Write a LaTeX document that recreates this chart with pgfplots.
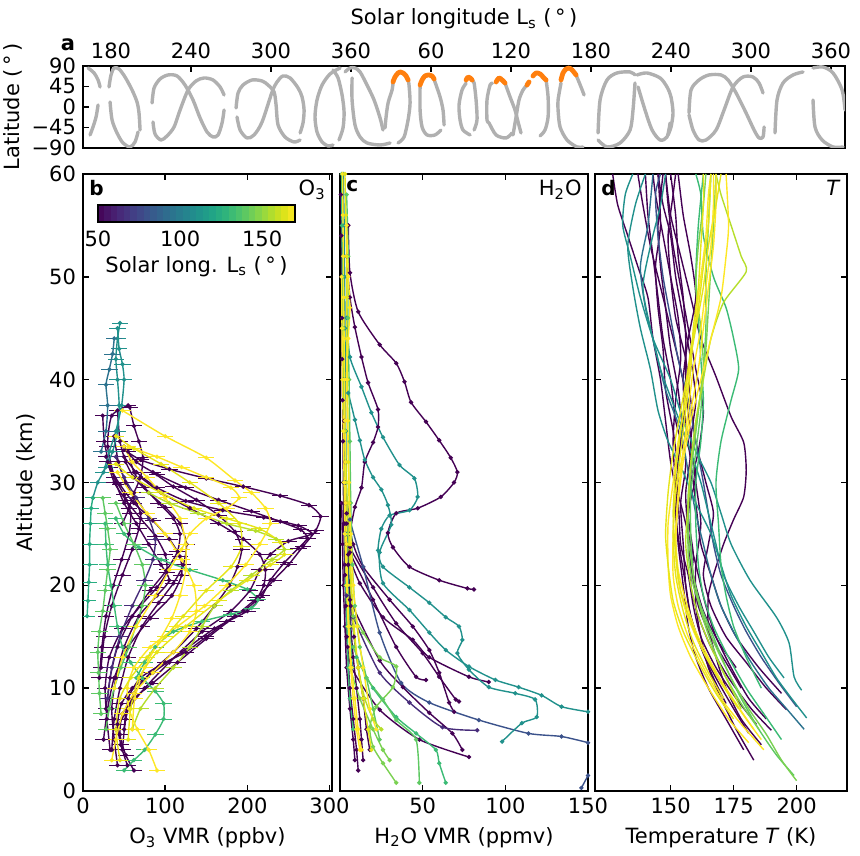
\documentclass[border=0pt]{standalone}
\usepackage{fontspec}
\setmainfont{DejaVu Sans}
\usepackage{pgfplots}
\pgfplotsset{compat=1.18}
\definecolor{vA}{HTML}{440154}
\definecolor{vB}{HTML}{472C7A}
\definecolor{vC}{HTML}{3B528B}
\definecolor{vD}{HTML}{2C728E}
\definecolor{vE}{HTML}{21918C}
\definecolor{vF}{HTML}{27AD81}
\definecolor{vG}{HTML}{3BBB75}
\definecolor{vH}{HTML}{5EC962}
\definecolor{vI}{HTML}{7AD151}
\definecolor{vJ}{HTML}{B5DE2B}
\definecolor{vK}{HTML}{E5E419}
\definecolor{vL}{HTML}{FDE725}
\definecolor{tgrey}{HTML}{B0B0B0}
\definecolor{torange}{HTML}{FF7F0E}
\pgfplotsset{
  every axis/.append style={font=\fontsize{10.5}{12.6}\selectfont},
  panel/.style={scale only axis, anchor=south west, tick align=inside, major tick length=3pt,
    axis line style={line width=0.8pt}, every tick/.style={black, line width=0.8pt},
    /pgf/number format/assume math mode=true},
  oz/.style={color=#1, line width=0.7pt, smooth, tension=0.4, mark=*, mark size=0.7pt,
    error bars/.cd, x dir=both, x fixed=10, error mark=none, error bar style={line width=0.45pt}},
  wv/.style={color=#1, line width=0.7pt, smooth, tension=0.4, mark=*, mark size=0.7pt},
  tt/.style={color=#1, line width=0.7pt, smooth, tension=0.4},
  gtrk/.style={tgrey, line width=1.7pt, line cap=round, line join=round, smooth, tension=0.5},
  otrk/.style={torange, line width=2.4pt, line cap=round, line join=round, smooth, tension=0.5},
}
\begin{document}
\begin{tikzpicture}
\useasboundingbox (-41.5pt,-32pt) rectangle (388.5pt,395.5pt);
% ---------------- panel a ----------------
\begin{axis}[panel, at={(0pt,321.5pt)}, width=381pt, height=41pt,
  xmin=159, xmax=730.5, ymin=-90, ymax=90,
  xtick={180,240,300,360,420,480,540,600,660,720},
  xticklabels={180,240,300,360,60,120,180,240,300,360},
  xtick pos=right, xticklabel pos=right,
  ytick={-90,-45,0,45,90}, yticklabels={−90,−45,0,45,90}, ytick pos=left,
  xlabel={Solar longitude L\textsubscript{s} (\,°\,)},
  ylabel={Latitude (\,°\,)}, ylabel style={yshift=-2pt}]
\addplot[gtrk] coordinates {(162.8,85.6) (167.3,74.7) (170.3,59.3) (171.8,43.9)};
\addplot[gtrk] coordinates {(170.3,4.4) (168.8,-21.9) (166.5,-43.9) (164.3,-61.4)};
\addplot[gtrk] coordinates {(178.5,43.9) (180,70.3) (182.3,85.6) (186,83.4) (190.5,65.9) (195.8,37.3) (199.5,11.0) (201,-13.1) (201.8,-50.5)};
\addplot[gtrk] coordinates {(179.3,11.0) (180.8,-28.5) (184.5,-57.0) (189,-79.0) (194.3,-87.8) (198,-76.8) (200.3,-54.8)};
\addplot[gtrk] coordinates {(210.8,8.8) (212.3,41.7) (216.8,61.5) (222.8,70.3) (229.5,68.1) (235.5,48.2) (241.5,15.4) (246.8,-24.1) (252,-54.8) (256.5,-65.8) (260.3,-61.4) (263.3,-35.1) (264.8,-6.6)};
\addplot[gtrk] coordinates {(211.5,-32.9) (213,-59.2) (217.5,-72.4) (222,-63.6) (227.3,-43.9) (231.8,-6.6) (237.8,37.3) (243.8,57.1) (249.8,63.7) (256.5,59.3) (261.8,43.9) (264.8,26.4)};
\addplot[gtrk] coordinates {(273.8,-2.2) (275.3,30.8) (279,48.2) (285.8,59.3) (293.3,57.1) (297.8,48.2) (302.3,32.9) (303.8,4.4) (305.3,-39.5) (310.5,-65.8) (317.3,-76.8) (321.8,-72.4)};
\addplot[gtrk] coordinates {(274.5,-21.9) (276.8,-50.5) (282,-68.0) (287.3,-61.4) (293.3,-32.9) (300.8,32.9) (304.5,54.9) (309,68.1) (314.3,63.7) (320.3,41.7) (323.3,22.0) (324.8,-6.6) (324,-35.1) (321.8,-57.0)};
\addplot[gtrk] coordinates {(351.8,85.6) (344.3,72.5) (338.3,48.2) (334.5,15.4) (333,-21.9) (334.5,-54.8) (338.3,-76.8) (342.8,-85.6) (346.5,-83.4)};
\addplot[gtrk] coordinates {(346.5,81.3) (350.3,63.7) (353.3,26.4) (354.8,-10.9) (354,-46.1) (351,-72.4)};
\addplot[gtrk] coordinates {(355.5,76.9) (359.3,85.6) (363,85.6) (366.8,76.9) (372,48.2) (377.3,15.4) (381.8,-24.1) (384,-50.5)};
\addplot[gtrk] coordinates {(360.8,63.7) (360.8,15.4) (363,-39.5) (366.8,-65.8) (372,-79.0) (381.8,-83.4) (389.3,-79.0)};
\addplot[gtrk] coordinates {(391.5,52) (390.8,37.3) (387.8,8.8) (386.3,-21.9) (385.5,-46.1)};
\addplot[gtrk] coordinates {(402.8,59.3) (403.5,48.2) (404.3,8.8) (402.8,-28.5) (399.8,-65.8) (395.3,-79.0)};
\addplot[gtrk] coordinates {(411.8,43.9) (411.8,-6.6) (413.3,-43.9) (417,-61.4) (423,-61.4) (427.5,-50.5)};
\addplot[gtrk] coordinates {(422.3,61.5) (423,54.9) (426.8,22.0) (429,-6.6) (429.8,-39.5)};
\addplot[gtrk] coordinates {(446.3,52) (443.3,37.3) (441,4.4) (441.8,-28.5) (444,-50.5) (449.3,-61.4)};
\addplot[gtrk] coordinates {(450.8,59.3) (452.3,52.7) (453.8,15.4) (454.5,-28.5) (452.3,-50.5)};
\addplot[gtrk] coordinates {(466,52) (464.3,48.2) (462,15.4) (462,-28.5) (463.5,-35.1) (468.8,-61.4) (476.3,-68.0) (480.8,-57.0)};
\addplot[gtrk] coordinates {(475.5,52.7) (479.3,22.0) (483,-6.6) (485.3,-32.9) (487.5,-57.0)};
\addplot[gtrk] coordinates {(481.5,-61.4) (483.8,-21.9) (486,15.4) (489,37.3) (492,48.2)};
\addplot[gtrk] coordinates {(506.3,59.3) (507.8,22.0) (507.8,-21.9) (505.5,-50.5) (501.8,-63.6)};
\addplot[gtrk] coordinates {(517.5,52.7) (515.3,15.4) (515.3,-6.6) (516.8,-43.9) (522,-72.4) (529.5,-87.8) (534,-87.8)};
\addplot[gtrk] coordinates {(528.8,70.3) (532.5,43.9) (534.8,26.4)};
\addplot[gtrk] coordinates {(545.3,-57.0) (546.8,15.4) (552,59.3) (559.5,74.7) (569.3,76.9) (573,70.3)};
\addplot[gtrk] coordinates {(574.5,70.3) (582,74.7) (591.8,63.7) (597,43.9) (600,22.0) (601.5,-13.1) (600,-43.9) (597.8,-61.4)};
\addplot[gtrk] coordinates {(573,52.7) (571.5,-6.6) (569.3,-50.5) (561.8,-79.0) (552,-87.8) (545.3,-72.4)};
\addplot[gtrk] coordinates {(575.3,43.9) (580.5,-6.6) (585.8,-50.5) (591.8,-72.4) (597,-65.8) (599.3,-35.1)};
\addplot[gtrk] coordinates {(613.5,-13.1) (615,37.3) (621,59.3) (628.5,70.3) (637.5,70.3) (642.8,59.3) (648.8,30.8) (656.3,-13.1) (662.3,-50.5) (666,-68.0) (669,-65.8) (669.8,-43.9)};
\addplot[gtrk] coordinates {(613.5,-17.5) (616.5,-50.5) (621,-72.4) (626.3,-72.4) (633.8,-50.5) (639.8,-6.6) (646.5,43.9) (654,65.9) (661.5,65.9) (666,52.7) (669,30.8)};
\addplot[gtrk] coordinates {(678,-57.0) (679.5,15.4) (684,52.7) (691.5,70.3) (699,76.9)};
\addplot[gtrk] coordinates {(706.5,85.6) (714,87.8) (721.5,74.7) (728.3,37.3) (730.5,-6.6)};
\addplot[gtrk] coordinates {(706.5,15.4) (708,-43.9) (713.3,-72.4) (721.5,-87.8) (729,-87.8)};
\addplot[otrk] coordinates {(391.5,55) (393,65.9) (395.3,74.7) (396.8,76.9) (399,74.7) (401.3,68.1) (402.8,59.3)};
\addplot[otrk] coordinates {(411.8,48.2) (413.3,59.3) (415.5,68.1) (418.5,70.3) (420.8,68.1) (422.3,61.5)};
\addplot[otrk] coordinates {(446.3,59.3) (447.8,65.9) (449.3,63.7) (450.8,59.3)};
\addplot[otrk] coordinates {(468.8,54.9) (471,63.7) (473.3,59.3) (475.5,52.7)};
\addplot[otrk] coordinates {(492,48.2) (493.5,54.9)};
\addplot[otrk] coordinates {(496.5,68.1) (498.8,74.7) (501.8,72.5) (504,65.9) (506.3,59.3)};
\addplot[otrk] coordinates {(517.5,59.3) (519,74.7) (521.3,83.4) (523.5,85.6) (525.8,81.3) (528.8,70.3)};
\end{axis}
\node[font=\bfseries\fontsize{10.5}{12.6}\selectfont] at (-7.5pt,373pt) {a};
% ---------------- panel b ----------------
\begin{axis}[panel, at={(0pt,0pt)}, width=124.5pt, height=308.5pt,
  xmin=0, xmax=303, ymin=0, ymax=60,
  xtick={0,100,200,300}, ytick={0,10,20,30,40,50,60},
  ylabel={Altitude (km)}, xlabel={O\textsubscript{3} VMR (ppbv)}]
\addplot[oz=vA] coordinates {(62,2) (52,3.5) (45,5.5) (48,7.5) (62,9) (85,10.5) (115,12.5) (150,14.8) (185,17) (212,18.8) (232,20.5) (250,22) (268,23.8) (283,25.3) (289,26.7) (275,27.8) (240,28.7) (195,29.6) (150,30.4) (105,31.3) (70,32.2) (50,33.2)};
\addplot[oz=vA] coordinates {(54,2.5) (46,4.5) (42,6.5) (47,8.5) (60,10) (85,11.5) (120,13.5) (160,15.8) (200,17.5) (218,19) (228,20.5) (245,22.2) (262,23.6) (273,24.6) (265,25.4) (240,26.2) (205,27.2) (165,28.3) (125,29.5) (90,30.8) (65,32) (50,33.5)};
\addplot[oz=vA] coordinates {(40,6) (55,8) (75,10) (105,12.5) (145,15.5) (180,17.5) (203,19.5) (215,21.5) (228,23) (250,24.3) (278,25) (262,25.8) (220,26.6) (170,27.3) (125,28.2) (90,29.5) (65,31) (50,32.5)};
\addplot[oz=vA] coordinates {(35,4) (38,7) (45,10) (55,13) (72,16) (92,18.3) (110,20.2) (122,22) (126,24) (118,26) (100,27.6) (80,29) (62,30.5) (52,32) (45,34) (42,37)};
\addplot[oz=vA] coordinates {(28,8) (33,11) (42,14) (60,17) (82,19.5) (102,21.5) (115,23.3) (118,25) (110,26.5) (92,28) (75,29.5) (62,31) (55,33)};
\addplot[oz=vA] coordinates {(22,12) (26,15) (35,18) (48,21) (60,23.5) (68,25.5) (70,27) (62,28.5) (52,30) (43,32) (38,34.5)};
\addplot[oz=vA] coordinates {(48,4) (52,7) (62,9.5) (82,11.5) (110,13.5) (138,15.8) (160,18) (178,20) (188,21.8) (193,23.5) (185,25.2) (165,26.8) (138,28.3) (110,29.6) (85,31)};
\addplot[oz=vA] coordinates {(33,4) (29,7) (27,10) (32,13) (48,15.8) (70,18) (90,19.8) (102,21.3) (100,23) (88,24.8) (70,26.5) (52,28.3) (38,30) (30,32)};
\addplot[oz=vA] coordinates {(20,11) (23,14) (28,17) (37,20) (47,22.5) (56,25) (58,27) (50,28.8) (38,30.5) (28,32.5)};
\addplot[oz=vA] coordinates {(25,5) (30,8) (38,11) (55,14) (82,16.8) (108,19) (120,21) (118,22.8) (105,24.5) (85,26.3) (62,28) (45,29.8) (33,31.5) (26,34) (24,36.5)};
\addplot[oz=vA] coordinates {(42,2.5) (38,5) (35,8) (40,11) (50,14) (68,17) (90,19) (105,20.5) (95,22) (80,24) (65,26) (50,28) (40,30) (30,33.5) (35,36.5) (55,37.5)};
\addplot[oz=vA] coordinates {(48,26) (56,27.5) (62,29) (70,30.5) (73,32.4) (68,34) (62,35.5) (57,37.3)};
\addplot[oz=vB] coordinates {(30,9) (35,12) (45,15) (60,18) (75,20.5) (85,22.5) (88,24.5) (80,26.5) (65,28.5) (50,30.5) (40,32.5)};
\addplot[oz=vA] coordinates {(50,6) (55,9) (70,11) (100,12.5) (125,13.5) (150,15) (175,16.5) (195,17.5) (210,18.5) (220,20) (222,21.5) (215,23) (195,24.5) (165,26) (130,27.5) (95,29) (70,30.5)};
\addplot[oz=vE] coordinates {(12,28.5) (18,30) (28,31.5) (36,33) (42,35) (44,37.5) (42,40) (40,42) (42,44) (45,45.5)};
\addplot[oz=vE] coordinates {(25,31) (32,33) (40,35) (47,37.5) (50,40) (48,41.5) (44,43) (42,45)};
\addplot[oz=vD] coordinates {(22,33) (28,35) (30,37.5) (28,39.5) (32,41) (36,42.5) (38,44)};
\addplot[oz=vF] coordinates {(5,17) (6,18.5) (7,20.3) (8,22) (8,24) (9,26) (10,27.5) (12,28.5)};
\addplot[oz=vG] coordinates {(50,2) (62,3) (75,4) (88,5.5) (98,7) (98,8.5) (88,9.7) (72,11) (58,12.5) (48,14) (42,16) (38,18) (34,20) (30,22) (28,24) (27,26)};
\addplot[oz=vH] coordinates {(22,7.5) (20,9.5) (19,11.5) (18,13.5) (20,15.5) (24,17.5) (27,19.5) (30,21.5) (33,23.5) (30,25.5) (27,27) (24,28.5)};
\addplot[oz=vG] coordinates {(65,11) (75,12.5) (88,14) (110,15.5) (145,16.5) (180,17.2) (205,17.8) (213,18.6) (200,19.6) (170,20.5) (130,21.5) (95,22.5) (68,23.7) (50,25) (40,26.5)};
\addplot[oz=vH] coordinates {(28,6) (32,8) (38,10) (46,12) (56,14) (64,16) (72,18) (76,20) (72,22) (62,24) (50,26) (40,28)};
\addplot[oz=vJ] coordinates {(60,6) (70,8) (88,10) (110,12) (130,14) (145,16) (160,18) (180,19.5) (205,21) (230,22.5) (245,23.5) (235,24.5) (210,25.3) (175,26) (140,27) (105,28) (80,29)};
\addplot[oz=vL] coordinates {(90,2) (80,4) (66,6) (56,8) (54,10) (62,12) (82,14) (115,16) (148,18) (175,20) (198,22) (215,24) (228,26) (222,27.5) (205,29) (185,30.2) (150,32.4) (100,34.5) (48,37)};
\addplot[oz=vK] coordinates {(45,3) (40,6) (45,9) (58,11) (78,13) (100,15) (122,17) (150,19.5) (180,21.8) (193,23.8) (190,26) (165,28) (130,30) (95,31.8) (62,33.3) (40,34.5)};
\addplot[oz=vL] coordinates {(60,6) (63,9) (75,12) (92,14.5) (108,16.8) (118,19) (125,21.5) (125,24) (118,26.5) (100,28.5) (78,30.5) (60,32) (50,33.5)};
\addplot[oz=vK] coordinates {(55,5) (58,8) (68,11) (90,13.5) (125,16) (165,18.5) (200,20.5) (228,22) (245,23) (240,24.2) (215,25.5) (175,26.5) (135,27.5) (95,29) (60,30.5) (40,31.8)};
\addplot[oz=vL] coordinates {(35,3) (40,5) (48,7.5) (62,9.5) (85,11.5) (110,13.5) (130,15.5) (138,17.5) (135,20) (120,22.5) (100,25) (78,27) (58,29) (42,31)};
\addplot[oz=vL] coordinates {(38,10) (48,13) (65,16) (88,19) (105,21.5) (120,23.5) (130,25) (150,26.5) (175,27.5) (190,28.5) (180,29.5) (150,30.5) (120,31.5) (90,32.5) (55,33.5)};
\node[anchor=north west, inner sep=3pt, font=\bfseries] at (rel axis cs:0,1) {b};
\node[anchor=north east, inner sep=3pt] at (rel axis cs:1,1) {O\textsubscript{3}};
\end{axis}
% colour bar
\begin{axis}[at={(7.5pt,284.5pt)}, anchor=south west, scale only axis, width=98.5pt, height=8.5pt,
  xmin=50, xmax=170, ymin=0, ymax=1, enlargelimits=false, colormap/viridis,
  point meta min=50, point meta max=170, axis on top,
  ytick=\empty, xtick={50,100,150}, xtick pos=left, xticklabel pos=left, major tick length=0pt,
  axis line style={line width=0.6pt},
  /pgf/number format/assume math mode=true,
  xticklabel style={yshift=-1pt},
  xlabel={Solar long. L\textsubscript{s} (\,°\,)}, xlabel style={yshift=2pt}]
\addplot[surf, shader=flat mean, mesh/rows=2, point meta=x] coordinates {
(50,0) (54,0) (58,0) (62,0) (66,0) (70,0) (74,0) (78,0) (82,0) (86,0) (90,0) (94,0) (98,0) (102,0) (106,0) (110,0) (114,0) (118,0) (122,0) (126,0) (130,0) (134,0) (138,0) (142,0) (146,0) (150,0) (154,0) (158,0) (162,0) (166,0) (170,0)
(50,1) (54,1) (58,1) (62,1) (66,1) (70,1) (74,1) (78,1) (82,1) (86,1) (90,1) (94,1) (98,1) (102,1) (106,1) (110,1) (114,1) (118,1) (122,1) (126,1) (130,1) (134,1) (138,1) (142,1) (146,1) (150,1) (154,1) (158,1) (162,1) (166,1) (170,1)};
\end{axis}
% ---------------- panel c ----------------
\begin{axis}[panel, at={(128.5pt,0pt)}, width=124pt, height=308.5pt,
  xmin=0, xmax=150, ymin=0, ymax=60,
  xtick={0,50,100,150}, xticklabels={,50,100,150},
  ytick={0,10,20,30,40,50,60}, yticklabels={},
  xlabel={H\textsubscript{2}O VMR (ppmv)}]
\addplot[wv=vA] coordinates {(0.5,58) (0.8,54) (1,50) (1.2,46) (1.3,42) (1.5,38) (1.8,34) (2,30) (2.3,26) (2.8,22) (3.5,18) (4.5,14) (6,10) (8,7) (10,4) (11,2)};
\addplot[wv=vA] coordinates {(2,40) (2.5,36) (3,32) (3.5,28) (4,24) (5,20) (6.5,16) (8,13) (10,10) (12,7) (13,5) (14,3)};
\addplot[wv=vA] coordinates {(1,28) (1.5,24) (2,20) (3,16) (4,12) (6,8) (8,5) (9,3)};
\addplot[wv=vA] coordinates {(3,30) (4,26) (5,22) (6.5,18) (8.5,15) (11,12) (14,9) (16,6) (18,4)};
\addplot[wv=vA] coordinates {(5,55) (6,50.4) (11,46.6) (24,43.4) (34,41.6) (39,39.8) (43,37.8) (52,35.9) (60,34.1) (67,32.4) (71,31) (69,30) (61,28.6) (47,27.5) (34,27) (29,25.1) (32,23.7) (42,21.8) (60,20.5) (77,19.7) (81,19.6)};
\addplot[wv=vA] coordinates {(4,52) (6,48) (9,45.1) (13,42.2) (17,39.7) (23,37.1) (23,35.4) (20,33.9) (15,32) (13,29.5) (9,27.6) (6,25) (5,22)};
\addplot[wv=vA] coordinates {(4,27) (8,24) (14,21.8) (30,18.6) (44,16) (54,13.7) (60,11.5) (66,8.6) (69,7.7)};
\addplot[wv=vA] coordinates {(5,23) (12,20.2) (26,16.9) (44,14.7) (54,13) (78,11.1) (90,10.6)};
\addplot[wv=vA] coordinates {(3,26) (6,23.7) (20,19.8) (34,16.3) (50,13.4) (60,11.1) (70,8.9) (72,8.7)};
\addplot[wv=vA] coordinates {(3,25) (6,23.2) (20,18.6) (34,14) (46,11.1) (52,10.8)};
\addplot[wv=vA] coordinates {(3,21) (6,18.6) (24,12.7) (38,10.1) (54,7.6) (68,5.6) (74,4)};
\addplot[wv=vB] coordinates {(4,19) (8,16.9) (24,11.5) (42,8.6) (62,6.2) (83,5.9)};
\addplot[wv=vA] coordinates {(4,15) (7,12) (24,7.9) (48,5) (78,3.3)};
\addplot[wv=vC] coordinates {(3,30) (6,26.4) (14,21.8) (24,15.4) (37,10.5) (54,8.6) (84,6.9) (114,5.6) (134,5.3) (150,4.7)};
\addplot[wv=vC] coordinates {(146,0.3) (150,1.5)};
\addplot[wv=vE] coordinates {(2,60) (2.5,55) (2.8,50) (3,45) (3.2,40) (3.5,35) (3.8,30) (4.2,25) (5,20) (6,16) (7.5,12)};
\addplot[wv=vE] coordinates {(4,46) (6,42.2) (13,39.3) (19,36.8) (26,34.4) (36,31.7) (45,30.4) (47,28.6) (42,27.3) (30,26.8) (25,25.5) (23,23.4) (26,21.8) (42,19.8) (54,18.3) (64,16.9) (72,16) (74,14.7) (71,13.4) (78,11.8) (90,10.1) (106,9.5) (118,8.9) (119,7.2) (110,6.6) (98,4.8)};
\addplot[wv=vE] coordinates {(3,40) (5,38.7) (9,36.1) (12,34.1) (15,32.2) (20,30.5) (25,29.3) (29,27.8) (31,25.9) (24,23.2) (26,20.2) (42,17.6) (54,15.4) (64,13.7) (78,12.1) (94,10.8) (108,10.1) (122,9.3) (134,8.2) (150,7.7)};
\addplot[wv=vG] coordinates {(1,60) (1.2,55) (1.5,50) (1.7,45) (2,40) (2.3,35) (2.6,30) (3,25) (3.5,20) (4.2,16) (5,12) (6,9) (8,6)};
\addplot[wv=vG] coordinates {(10,13) (20,10) (34,7.2) (46,5.6) (58,4) (60,2.7) (64,0.8)};
\addplot[wv=vH] coordinates {(4,58) (5,52) (4.8,46) (5.5,40) (6,34) (6.5,28) (7.5,22) (9,18) (12,14) (16,11) (20,8) (24,5)};
\addplot[wv=vH] coordinates {(8,14) (16,11) (26,8.9) (34,6.9) (46,5) (48,0.8)};
\addplot[wv=vI] coordinates {(8,17) (14,15.4) (24,13) (34,12.1) (32,10.1) (22,8.2) (18,6.2) (20,4.3) (26,2.7) (34,0.8)};
\addplot[wv=vI] coordinates {(6,12) (12,9) (20,6) (26,4) (30,3)};
\addplot[wv=vJ] coordinates {(2,45) (2.5,40) (3,35) (4,30) (5,25) (6.5,20) (8,16) (11,12) (15,9) (20,7) (25,6)};
\addplot[wv=vL] coordinates {(1.5,60) (1.8,56) (2,52) (2.2,48) (2.5,44) (2.8,40) (3,36) (3.2,32) (3.5,28) (4,24) (4.5,20) (5.5,16) (7,12) (9,9) (11,6) (13,4)};
\addplot[wv=vK] coordinates {(3,60) (3.5,56) (4,52) (4.2,48) (4,44) (4.5,40) (4.8,36) (5,32) (5.5,28) (6,24) (7,20) (8.5,16) (11,12) (14,9) (17,6) (19,4)};
\addplot[wv=vL] coordinates {(4,55) (5,50) (6,47) (5,44) (4,40) (4.5,36) (5.5,30) (6.5,25) (8,20) (10.5,16) (14,12) (18,8) (22,6)};
\addplot[wv=vL] coordinates {(1,50) (1.2,45) (1.5,40) (2,35) (2.5,30) (3,25) (4,20) (5,16) (6.5,12) (8,9) (10,6) (12,4)};
\node[anchor=north west, inner sep=3pt, font=\bfseries] at (rel axis cs:0,1) {c};
\node[anchor=north east, inner sep=3pt] at (rel axis cs:1,1) {H\textsubscript{2}O};
\end{axis}
% ---------------- panel d ----------------
\begin{axis}[panel, at={(256pt,0pt)}, width=126pt, height=308.5pt,
  xmin=120, xmax=220, ymin=0, ymax=60,
  xtick={150,175,200},
  ytick={0,10,20,30,40,50,60}, yticklabels={},
  xlabel={Temperature \textit{T} (K)}]
\addplot[tt=vA] coordinates {(181,5.6) (175,8) (168,11) (162,14) (158,17) (156,20) (155,24) (154,28) (156,32) (152,36) (150,40) (147,44) (145,48) (143,52) (141,56) (140,60)};
\addplot[tt=vA] coordinates {(190,5.9) (182,8) (173,11) (166,14) (161,17) (158,20) (159,23) (157,27) (160,31) (155,35) (153,39) (150,43) (148,47) (146,51) (145,55) (147,60)};
\addplot[tt=vA] coordinates {(196,7.9) (188,10) (180,12.5) (172,15) (166,18) (163,21) (165,24) (167,27) (164,30) (160,34) (158,38) (156,42) (152,46) (150,50) (149,54) (151,58) (152,60)};
\addplot[tt=vA] coordinates {(186,4.5) (178,7) (172,10) (168,13) (165,16) (165,19) (167,21) (171,24) (175,26.4) (179,28.6) (180,31.2) (179,33.9) (174,36.4) (168,40.3) (162,44) (158,48) (154,52) (150,56) (148,60)};
\addplot[tt=vA] coordinates {(184,6.5) (176,9) (168,12) (162,15) (159,18) (157,21) (154,24) (153,28) (150,32) (148,36) (146,40) (143,44) (141,48) (137,51) (133,54) (129,57) (127,60)};
\addplot[tt=vA] coordinates {(179,4) (172,7) (165,10) (160,13) (157,16) (155,20) (153,24) (152,28) (153,32) (155,36) (156,40) (156,44) (155,48) (153,52) (152,56) (150,60)};
\addplot[tt=vA] coordinates {(183,3) (176,6) (170,9) (165,12) (162,15) (160,18) (160,22) (162,26) (160,30) (158,34) (160,38) (158,42) (155,46) (152,50) (150,54) (147,57) (145,60)};
\addplot[tt=vA] coordinates {(188,7) (181,9) (174,12) (168,15) (164,18) (161,21) (158,24) (155,27) (152,30) (151,34) (152,38) (154,42) (153,46) (150,50) (147,54) (144,58) (143,60)};
\addplot[tt=vA] coordinates {(194,9.5) (185,12) (176,15) (170,18) (166,21) (162,24) (160,28) (158,32) (156,36) (155,40) (157,44) (160,48) (158,52) (155,56) (153,60)};
\addplot[tt=vA] coordinates {(178,10) (172,12.5) (166,15) (161,18) (158,22) (157,26) (158,30) (161,33) (163,37) (160,41) (157,45) (154,49) (151,53) (149,57) (148,60)};
\addplot[tt=vA] coordinates {(176,12) (169,14.5) (163,17.5) (159,21) (157,25) (156,29) (158,33) (157,37) (154,41) (150,45) (146,49) (142,53) (139,57) (137,60)};
\addplot[tt=vA] coordinates {(172,8.5) (167,11) (162,14) (158,17) (156,20) (154,23) (152,27) (153,31) (151,35) (148,39) (147,43) (145,47) (144,51) (146,55) (145,60)};
\addplot[tt=vC] coordinates {(200,8.2) (193,10.5) (186,13) (180,15.5) (175,18) (170,21) (167,24) (165,27) (163,30) (160,34) (157,38) (153,42) (150,46) (147,50) (145,54) (144,58) (146,60)};
\addplot[tt=vD] coordinates {(203,6) (196,8) (189,10) (182,12.5) (176,15) (170,18) (166,21) (163,24) (160,27) (157,31) (154,35) (148,39) (144,43) (140,47) (138,51) (141,55) (143,60)};
\addplot[tt=vE] coordinates {(202,9.8) (199,11.1) (197,14.4) (192,16.9) (181.5,20.5) (174,24) (170,27) (166,30) (160,33) (155,36) (150,40) (143,44) (138,48) (134,52) (131,55) (132,58) (135,60)};
\addplot[tt=vE] coordinates {(204,7.1) (198,9) (192,11) (186,13.5) (180,16) (174,19) (170,22) (166,25) (160,28) (155,31) (149,34) (145,37) (142,41) (138,45) (135,49) (133,53) (136,57) (140,60)};
\addplot[tt=vE] coordinates {(195,11) (189,13) (183,15.5) (177,18) (171,21) (168,24) (165,27) (162,30) (158,33) (152,37) (146,41) (142,45) (139,49) (142,53) (146,57) (148,60)};
\addplot[tt=vG] coordinates {(186,10) (180,13) (175,16) (172,19) (170,22) (169,26) (168,30) (170,34) (174,38) (177,41) (175,44) (172,47) (167,50) (163,54) (162,58) (160,60)};
\addplot[tt=vG] coordinates {(194,5) (187,7.5) (180,10) (173,13) (167,16) (163,19) (161,22) (160,26) (160,30) (162,34) (163,38) (162,42) (161,46) (160,50) (161,55) (163,60)};
\addplot[tt=vH] coordinates {(199,1.5) (192,3.5) (185,6) (178,9) (172,12) (167,15) (162,18) (159,21) (158,25) (158,29) (160,33) (162,37) (163,41) (164,45) (164,50) (165,55) (166,60)};
\addplot[tt=vI] coordinates {(200,1) (194,3) (188,5.5) (181,8) (174,11) (168,14) (163,17) (159,20) (157,23) (157,27) (158,31) (160,35) (162,39) (164,43) (165,47) (166,51) (167,55) (168,60)};
\addplot[tt=vI] coordinates {(185,6) (178,8.5) (171,11.5) (166,14.5) (162,17.5) (159,21) (157,25) (157,29) (159,33) (161,37) (163,41) (162,45) (160,49) (161,53) (163,57) (164,60)};
\addplot[tt=vJ] coordinates {(178,8) (172,11) (166,14) (161,17) (158,20) (156,24) (157,28) (158,32) (160,36) (163,40) (166,44) (171,47.5) (180,50.5) (178,52) (174,55) (170,58) (168,60)};
\addplot[tt=vL] coordinates {(181,4.7) (173,7) (165,10) (158,13) (153,16) (150,19) (149,22) (149,26) (151,30) (153,34) (156,38) (158,42) (160,46) (162,50) (164,54) (165,58) (166,60)};
\addplot[tt=vL] coordinates {(187,4) (178,6.5) (170,9) (163,12) (157,15) (153,18) (151,21) (151,25) (152,29) (155,33) (158,37) (161,41) (163,45) (165,49) (167,53) (168,57) (168,60)};
\addplot[tt=vK] coordinates {(175,7) (168,9.5) (161,12.5) (155,15.5) (151,18.5) (149,22) (148,25) (149,29) (151,33) (154,37) (157,41) (160,45) (163,49) (165,53) (168,57) (170,60)};
\addplot[tt=vL] coordinates {(183,6) (176,8.5) (168,11.5) (161,14.5) (156,17.5) (153,20.5) (152,24) (153,28) (155,32) (158,36) (162,40) (166,44) (170,48) (172,52) (173,55) (172,60)};
\addplot[tt=vK] coordinates {(171,9) (165,11.5) (159,14.5) (155,17.5) (152,21) (151,25) (152,29) (154,33) (156,37) (158,41) (159,45) (161,49) (162,53) (163,57) (163,60)};
\addplot[tt=vL] coordinates {(186,5) (180,7) (173,9.5) (166,12.5) (160,15.5) (156,18.5) (153,21.5) (152,25) (153,29) (155,33) (157,37) (159,41) (162,45) (164,49) (166,53) (167,57) (167,60)};
\addplot[tt=vK] coordinates {(177,8) (170,10.5) (163,13.5) (158,16.5) (154,19.5) (152,23) (151,27) (152,31) (154,35) (156,39) (158,43) (161,47) (163,51) (165,55) (166,60)};
\node[anchor=north west, inner sep=3pt, font=\bfseries] at (rel axis cs:0,1) {d};
\node[anchor=north east, inner sep=3pt] at (rel axis cs:1,1) {\textit{T}};
\end{axis}
\end{tikzpicture}
\end{document}
